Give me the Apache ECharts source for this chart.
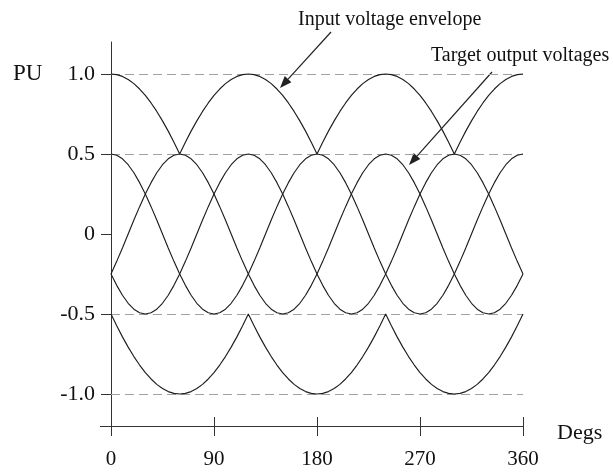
<!DOCTYPE html>
<html><head><meta charset="utf-8">
<script src="https://cdn.jsdelivr.net/npm/echarts@6/dist/echarts.min.js"></script>
<style>html,body{margin:0;padding:0;background:#fff}#c{width:613px;height:474px}</style>
</head><body><div id="c"></div>
<script>
const degs = [0,5,10,15,20,25,30,35,40,45,50,55,60,65,70,75,80,85,90,95,100,105,110,115,120,125,130,135,140,145,150,155,160,165,170,175,180,185,190,195,200,205,210,215,220,225,230,235,240,245,250,255,260,265,270,275,280,285,290,295,300,305,310,315,320,325,330,335,340,345,350,355,360];
const upperEnvelope = [1,.996,.985,.966,.940,.906,.866,.819,.766,.707,.643,.574,.5,.574,.643,.707,.766,.819,.866,.906,.940,.966,.985,.996,1,
  .996,.985,.966,.940,.906,.866,.819,.766,.707,.643,.574,.5,.574,.643,.707,.766,.819,.866,.906,.940,.966,.985,.996,1,
  .996,.985,.966,.940,.906,.866,.819,.766,.707,.643,.574,.5,.574,.643,.707,.766,.819,.866,.906,.940,.966,.985,.996,1];
const lowerEnvelope = [-.5,-.574,-.643,-.707,-.766,-.819,-.866,-.906,-.940,-.966,-.985,-.996,-1,-.996,-.985,-.966,-.940,-.906,-.866,-.819,-.766,-.707,-.643,-.574,-.5,
  -.574,-.643,-.707,-.766,-.819,-.866,-.906,-.940,-.966,-.985,-.996,-1,-.996,-.985,-.966,-.940,-.906,-.866,-.819,-.766,-.707,-.643,-.574,-.5,
  -.574,-.643,-.707,-.766,-.819,-.866,-.906,-.940,-.966,-.985,-.996,-1,-.996,-.985,-.966,-.940,-.906,-.866,-.819,-.766,-.707,-.643,-.574,-.5];
const outputA = [.5,.492,.470,.433,.383,.321,.25,.171,.087,0,-.087,-.171,-.25,-.321,-.383,-.433,-.470,-.492,-.5,
  -.492,-.470,-.433,-.383,-.321,-.25,-.171,-.087,0,.087,.171,.25,.321,.383,.433,.470,.492,.5,
  .492,.470,.433,.383,.321,.25,.171,.087,0,-.087,-.171,-.25,-.321,-.383,-.433,-.470,-.492,-.5,
  -.492,-.470,-.433,-.383,-.321,-.25,-.171,-.087,0,.087,.171,.25,.321,.383,.433,.470,.492,.5];
const outputB = [-.25,-.171,-.087,0,.087,.171,.25,.321,.383,.433,.470,.492,
  .5,.492,.470,.433,.383,.321,.25,.171,.087,0,-.087,-.171,-.25,-.321,-.383,-.433,-.470,-.492,-.5,-.492,-.470,-.433,-.383,-.321,-.25,-.171,-.087,0,.087,.171,.25,.321,.383,.433,.470,.492,
  .5,.492,.470,.433,.383,.321,.25,.171,.087,0,-.087,-.171,-.25,-.321,-.383,-.433,-.470,-.492,-.5,-.492,-.470,-.433,-.383,-.321,-.25];
const outputC = [-.25,-.321,-.383,-.433,-.470,-.492,-.5,-.492,-.470,-.433,-.383,-.321,-.25,-.171,-.087,0,.087,.171,.25,.321,.383,.433,.470,.492,
  .5,.492,.470,.433,.383,.321,.25,.171,.087,0,-.087,-.171,-.25,-.321,-.383,-.433,-.470,-.492,-.5,-.492,-.470,-.433,-.383,-.321,-.25,-.171,-.087,0,.087,.171,.25,.321,.383,.433,.470,.492,
  .5,.492,.470,.433,.383,.321,.25,.171,.087,0,-.087,-.171,-.25];
const yTicks = [1, 0.5, 0, -0.5, -1];
const yTickLabels = ['1.0', '0.5', '0', '-0.5', '-1.0'];
const xTicks = [0, 90, 180, 270, 360];
const refLevels = [1, 0.5, -0.5, -1];

const serif = '"Liberation Serif", "DejaVu Serif", serif';
const chart = echarts.init(document.getElementById('c'), null, {renderer: 'canvas'});
const pair = arr => degs.map((d, i) => [d, arr[i]]);
const lineStyle = {color: '#1e1e1e', width: 1.15};
const mk = (name, arr) => ({
  name, type: 'line', data: pair(arr), showSymbol: false, symbol: 'none',
  lineStyle, silent: true, animation: false, z: 3
});
const series = [
  mk('Input voltage envelope (upper)', upperEnvelope),
  mk('Input voltage envelope (lower)', lowerEnvelope),
  mk('Target output A', outputA),
  mk('Target output B', outputB),
  mk('Target output C', outputC)
];
series[0].markLine = {
  silent: true, symbol: ['none', 'none'], label: {show: false},
  lineStyle: {color: '#a0a0a0', type: [9, 5], width: 1},
  data: refLevels.map(v => ({yAxis: v})), animation: false, z: 1
};

chart.setOption({
  animation: false,
  grid: {left: 111, right: 90, top: 42, bottom: 48, containLabel: false},
  xAxis: [{
    type: 'value', min: 0, max: 360, interval: 90,
    axisLine: {show: true, onZero: false, lineStyle: {color: '#333', width: 1}},
    axisTick: {show: true, inside: true, length: 9, lineStyle: {color: '#333'}},
    axisLabel: {show: true, margin: 23, fontFamily: serif, fontSize: 21, color: '#111',
      customValues: xTicks},
    splitLine: {show: false}
  }, {
    type: 'value', min: 0, max: 360, interval: 90, position: 'bottom',
    axisLine: {show: false, onZero: false},
    axisTick: {show: true, inside: false, length: 10, lineStyle: {color: '#333'}},
    axisLabel: {show: false}, splitLine: {show: false}
  }],
  yAxis: {
    type: 'value', min: -1.2, max: 1.2,
    axisLine: {show: true, onZero: false, lineStyle: {color: '#333', width: 1}},
    axisTick: {show: true, length: 10, customValues: yTicks, lineStyle: {color: '#333'}},
    axisLabel: {show: true, customValues: yTicks, margin: 16, fontFamily: serif, fontSize: 22, color: '#111',
      formatter: v => { const i = yTicks.indexOf(v); return i >= 0 ? yTickLabels[i] : ''; }},
    splitLine: {show: false}
  },
  series
});

function arrow(x1, y1, x2, y2) {
  const ang = Math.atan2(y2 - y1, x2 - x1), L = 12, W = 4.5;
  const bx = x2 - L * Math.cos(ang), by = y2 - L * Math.sin(ang);
  const px = -Math.sin(ang), py = Math.cos(ang);
  return [
    {type: 'line', shape: {x1, y1, x2: bx, y2: by}, style: {stroke: '#222', lineWidth: 1.2}, silent: true},
    {type: 'polygon', shape: {points: [[x2, y2], [bx + px * W, by + py * W], [bx - px * W, by - py * W]]},
      style: {fill: '#222'}, silent: true}
  ];
}
const textStyle = (t, x, y, size, align) => ({type: 'text', x, y, silent: true,
  style: {text: t, font: size + 'px ' + serif, fill: '#111', align: align || 'left', verticalAlign: 'middle'}});

chart.setOption({
  graphic: [
    {type: 'line', shape: {x1: 100, y1: 426.5, x2: 111, y2: 426.5}, style: {stroke: '#333', lineWidth: 1}, silent: true},
    textStyle('PU', 13, 74, 23),
    textStyle('Degs', 557, 433, 22),
    textStyle('Input voltage envelope', 298, 20, 20),
    textStyle('Target output voltages', 431, 56, 20),
    ...arrow(331, 32, 280, 88),
    ...arrow(492, 72, 409, 165)
  ]
});
</script></body></html>
